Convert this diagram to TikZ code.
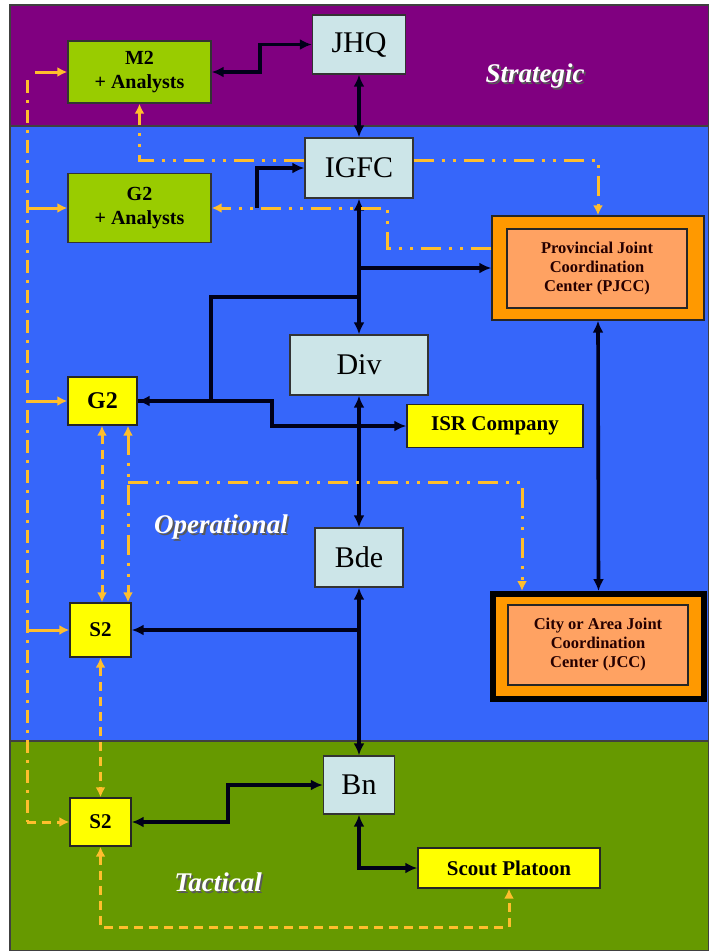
\documentclass[tikz,border=0pt]{standalone}
\usepackage{fontspec}
\setmainfont{Liberation Serif}
\usetikzlibrary{arrows.meta}
\definecolor{stratband}{RGB}{128, 0, 128}
\definecolor{operband}{RGB}{54, 102, 250}
\definecolor{tactband}{RGB}{102, 153, 0}
\definecolor{cmdblue}{RGB}{204, 229, 232}
\definecolor{anagreen}{RGB}{153, 204, 0}
\definecolor{intyellow}{RGB}{255, 255, 0}
\definecolor{ctrorange}{RGB}{255, 153, 0}
\definecolor{ctrsalmon}{RGB}{255, 162, 98}
\definecolor{infoline}{RGB}{255, 190, 45}
\newcommand{\shtext}[1]{\rlap{\kern1.8pt\raisebox{-1.8pt}{\color{black!65}#1}}{\color{white}#1}}

\begin{document}
\begin{tikzpicture}[x=1pt,y=-1pt,
  cmdbox/.style={draw=black!80, line width=1.4pt, fill=cmdblue, inner sep=0pt, font=\fontsize{30}{30}\selectfont},
  anabox/.style={draw=black!80, line width=1.4pt, fill=anagreen, inner sep=0pt, align=center, font=\bfseries\fontsize{20}{24}\selectfont},
  intbox/.style={draw=black!85, line width=1.4pt, fill=intyellow, inner sep=0pt, font=\bfseries\fontsize{21}{24}\selectfont},
  ctrouter/.style={draw=black!85, line width=1.4pt, fill=ctrorange, inner sep=0pt},
  ctrinner/.style={draw=black!85, line width=1.1pt, fill=ctrsalmon, inner sep=0pt, align=center, text=black!75!red!60!black, font=\bfseries\fontsize{16.5}{19}\selectfont},
  lvl/.style={font=\bfseries\itshape\fontsize{27}{30}\selectfont},
  blk/.style={draw=black!90!blue, line width=3.6pt, >={Latex[length=12pt,width=11pt]}},
  ddot/.style={draw=infoline, line width=3pt, dash pattern=on 20pt off 8pt on 3pt off 8pt on 3pt off 8pt, >={Latex[length=10pt,width=10pt]}},
  lbus/.style={draw=infoline, line width=3pt, dash pattern=on 13pt off 7pt on 3pt off 7pt},
  dsh/.style={draw=infoline, line width=3pt, dash pattern=on 9pt off 6pt, >={Latex[length=10pt,width=10pt]}},
  oarr/.style={draw=infoline, line width=3pt, ->, >={Latex[length=10pt,width=10pt]}}]
\useasboundingbox (0,0) rectangle (709,951);
\fill[white] (0,0) rectangle (709,951);
% Levels
\draw[black!75, line width=1.2pt, fill=stratband] (10,5) rectangle (709,126);
\draw[black!75, line width=1.2pt, fill=operband] (10,126) rectangle (709,741);
\draw[black!75, line width=1.2pt, fill=tactband] (10,741) rectangle (709,951);
\node[lvl] (strat) at (535,77) {\shtext{Strategic}};
\node[lvl] (oper) at (221,528) {\shtext{Operational}};
\node[lvl] (tact) at (218,883) {\shtext{Tactical}};

% Command nodes
\node[cmdbox, minimum width=93, minimum height=59] (jhq) at (359,44.5) {JHQ};
\node[cmdbox, minimum width=108, minimum height=60] (igfc) at (359,168) {IGFC};
\node[cmdbox, minimum width=138, minimum height=60] (div) at (359,365) {Div};
\node[cmdbox, minimum width=88, minimum height=59] (bde) at (359,557.5) {Bde};
\node[cmdbox, minimum width=71, minimum height=58] (bn) at (359,785) {Bn};
% Intelligence cells
\node[anabox, minimum width=143, minimum height=62] (mtwo) at (139.5,72) {M2\\+ Analysts};
\node[anabox, minimum width=143, minimum height=69] (gtwoa) at (139.5,208) {G2\\+ Analysts};
\node[intbox, font=\bfseries\fontsize{24}{26}\selectfont, minimum width=69, minimum height=48] (gtwo) at (102.5,401) {G2};
\node[intbox, minimum width=61, minimum height=54] (stwo) at (100.5,630) {S2};
\node[intbox, minimum width=61, minimum height=48] (stwob) at (100.5,822) {S2};
\node[intbox, minimum width=176, minimum height=43] (isr) at (495,426) {ISR Company};
\node[intbox, minimum width=182, minimum height=40] (scout) at (509,868) {Scout Platoon};
% Coordination centers
\node[ctrouter, minimum width=212, minimum height=104] (pjcc) at (598,268) {};
\node[ctrinner, minimum width=180, minimum height=79] (pjcci) at (597,268.5) {Provincial Joint\\Coordination\\Center (PJCC)};
\node[ctrouter, line width=6pt, draw=black, minimum width=211, minimum height=105] (jcc) at (598.5,646.5) {};
\node[ctrinner, minimum width=180, minimum height=80] (jcci) at (598,645) {City or Area Joint\\Coordination\\Center (JCC)};

% Command links
\draw[blk, <->] (mtwo.east) -- (260,72) |- (jhq.west);
\draw[blk, <->] (jhq) -- (igfc);
\coordinate (gtap) at (257,208);
\draw[blk, ->] (gtap) |- (igfc.west);
\draw[blk, <->] (igfc) -- (div);
\draw[blk, ->] (igfc.south |- pjcc.west) -- (pjcc.west);
\draw[blk, ->] (359,297) -| (211,401) -- (gtwo.east);
\draw[blk, ->] (div.south |- isr.west) -- (isr.west);
\draw[blk] (div.south |- isr.west) -- (272,426) |- (gtwo.east);
\draw[blk, <->] (div) -- (bde);
\draw[blk, <->] (bde) -- (bn);
\draw[blk, ->] (bde.south |- stwo.east) -- (stwo.east);
\draw[blk, <->] (stwob.east) -- (228,822) |- (bn.west);
\draw[blk, <->] (bn.south) |- (scout.west);
\draw[blk, <->] (pjcc.south) -- (jcc.north);

% Intelligence flow
\draw[ddot, ->] (igfc.west |- 0,160) -| (mtwo.south);
\draw[ddot, ->] (igfc.east |- 0,160) -| (pjcc.north);
\draw[ddot, ->] (pjcc.west |- 0,248) -| (387,208) -- (gtwoa.east);
\coordinate (lbtop) at (27,80);
\coordinate (lbbot) at (27,822);
\draw[lbus] (lbtop) -- (lbbot);
\draw[oarr] (35,72) -- (mtwo.west);
\foreach \n in {gtwoa,gtwo,stwo}
  \draw[oarr] (\n.west -| lbtop) -- (\n.west);
\draw[dsh, ->] (lbbot) -- (stwob.west);
\draw[dsh, <->] (gtwo.south -| 102,0) -- (stwo.north -| 102,0);
\draw[ddot, <->] (gtwo.south -| 128,0) -- (stwo.north -| 128,0);
\coordinate (ojunc) at (128,482);
\draw[ddot, ->] (ojunc) -| (jcc.north -| 522,0);
\draw[dsh, <->] (stwo.south) -- (stwob.north);
\draw[dsh, <->] (stwob.south) -- (stwob.south |- 0,927) -| (scout.south);
\end{tikzpicture}
\end{document}
